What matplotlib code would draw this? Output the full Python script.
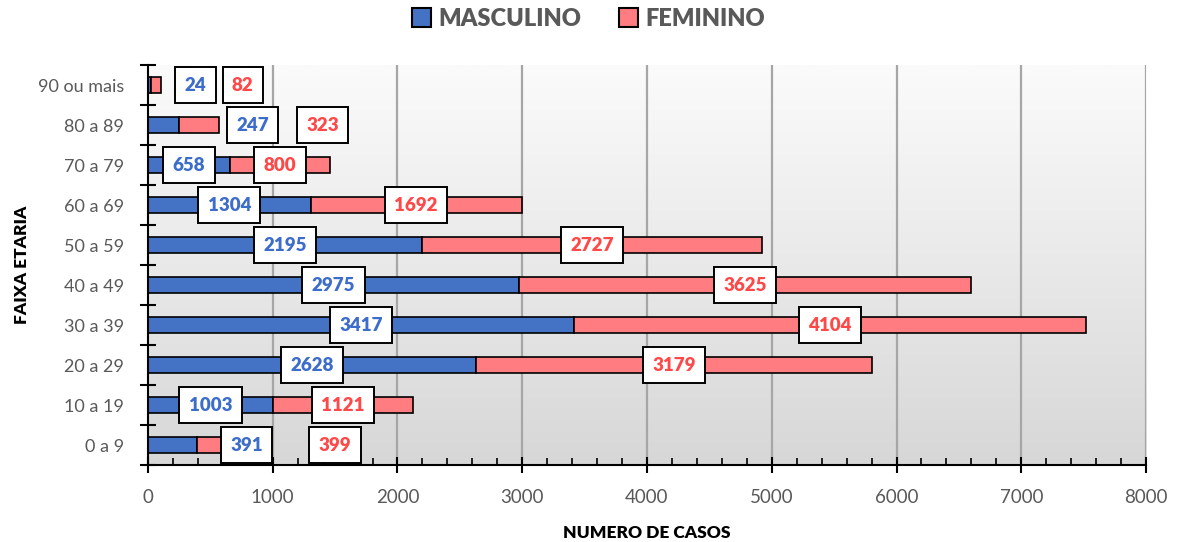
import matplotlib.pyplot as plt
import numpy as np
from matplotlib.patches import Patch
from matplotlib.ticker import MultipleLocator

# --- chart data ---
faixas = ["0 a 9", "10 a 19", "20 a 29", "30 a 39", "40 a 49",
          "50 a 59", "60 a 69", "70 a 79", "80 a 89", "90 ou mais"]
masculino = [391, 1003, 2628, 3417, 2975, 2195, 1304, 658, 247, 24]
feminino = [399, 1121, 3179, 4104, 3625, 2727, 1692, 800, 323, 82]

# labels on short bars were moved by hand in the original
label_x_masc = {"0 a 9": 790, "80 a 89": 840, "90 ou mais": 380}
label_x_fem = {"0 a 9": 1500, "80 a 89": 1400, "90 ou mais": 760}

BLUE = "#4472C4"
PINK = "#FF7C80"
BLUE_TXT = "#3C6DCA"
RED_TXT = "#FF4848"
GRAY_TXT = "#595959"

plt.rcParams["font.family"] = ["Lato", "DejaVu Sans"]

fig = plt.figure(figsize=(11.77, 5.42), dpi=100)
ax = fig.add_axes([0.1257, 0.142, 0.848, 0.738])

y = np.arange(len(faixas))
ax.barh(y, masculino, height=0.4, color=BLUE, edgecolor="black", linewidth=1.2, zorder=3)
ax.barh(y, feminino, left=masculino, height=0.4, color=PINK, edgecolor="black", linewidth=1.2, zorder=3)

box = dict(boxstyle="square,pad=0.5", facecolor="white", edgecolor="black", linewidth=1.4)
for i, f in enumerate(faixas):
    xm = label_x_masc.get(f, masculino[i] / 2)
    xf = label_x_fem.get(f, masculino[i] + feminino[i] / 2)
    ax.text(xm, i, str(masculino[i]), ha="center", va="center", fontsize=13.5,
            fontweight="heavy", color=BLUE_TXT, bbox=box, zorder=5)
    ax.text(xf, i, str(feminino[i]), ha="center", va="center", fontsize=13.5,
            fontweight="heavy", color=RED_TXT, bbox=box, zorder=5)

ax.set_xlim(0, 8000)
ax.set_ylim(-0.5, len(faixas) - 0.5)

# gradient background
grad = np.linspace(0, 1, 256).reshape(-1, 1)
ax.imshow(grad, extent=[0, 8000, -0.5, len(faixas) - 0.5], aspect="auto",
          cmap=plt.matplotlib.colors.LinearSegmentedColormap.from_list("bg", ["#d7d7d7", "#fbfbfb"]),
          origin="lower", zorder=0)

for xv in range(1000, 8001, 1000):
    ax.axvline(xv, color="#a6a6a6", linewidth=1.6, zorder=1)

ax.set_yticks(y)
ax.set_yticklabels(faixas)
ax.set_yticks(np.arange(-0.5, len(faixas), 1), minor=True)
ax.tick_params(axis="y", which="major", length=0, labelsize=13, labelcolor=GRAY_TXT, pad=17)
ax.tick_params(axis="y", which="minor", direction="inout", length=12, width=1.5, color="black")

ax.xaxis.set_major_locator(MultipleLocator(1000))
ax.xaxis.set_minor_locator(MultipleLocator(200))
ax.tick_params(axis="x", which="major", direction="inout", length=12, width=1.5,
               labelsize=13.5, labelcolor=GRAY_TXT, pad=11)
ax.tick_params(axis="x", which="minor", direction="in", length=5, width=1.2)

for s in ["top", "right"]:
    ax.spines[s].set_visible(False)
for s in ["left", "bottom"]:
    ax.spines[s].set_linewidth(1.5)
    ax.spines[s].set_zorder(4)

ax.set_xlabel("NUMERO DE CASOS", fontsize=12.5, fontweight="heavy", labelpad=14)
ax.set_ylabel("FAIXA ETARIA", fontsize=12.5, fontweight="heavy", labelpad=6)

handles = [Patch(facecolor=BLUE, edgecolor="black", linewidth=1.5, label="MASCULINO"),
           Patch(facecolor=PINK, edgecolor="black", linewidth=1.5, label="FEMININO")]
leg = fig.legend(handles=handles, loc="upper center", bbox_to_anchor=(0.5, 1.025), ncol=2,
                 frameon=False, handlelength=0.8, handleheight=0.8, handletextpad=0.3,
                 columnspacing=1.6, prop={"size": 17, "weight": "heavy"})
for t in leg.get_texts():
    t.set_color(GRAY_TXT)

fig.savefig("out.png", dpi=100)
